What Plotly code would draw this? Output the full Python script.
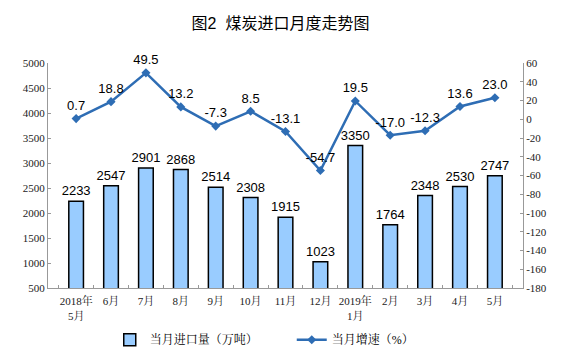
import plotly.graph_objects as go

categories = ["2018年<br>5月", "6月", "7月", "8月", "9月", "10月", "11月", "12月",
              "2019年<br>1月", "2月", "3月", "4月", "5月"]
imports = [2233, 2547, 2901, 2868, 2514, 2308, 1915, 1023, 3350, 1764, 2348, 2530, 2747]
growth = [0.7, 18.8, 49.5, 13.2, -7.3, 8.5, -13.1, -54.7, 19.5, -17.0, -12.3, 13.6, 23.0]
growth_text = [f"{v:.1f}" for v in growth]

left_ticks = [500, 1000, 1500, 2000, 2500, 3000, 3500, 4000, 4500, 5000]
right_ticks = list(range(-180, 61, 20))
right_labels = [str(v) for v in right_ticks]

serif = "Liberation Serif, Times New Roman, Noto Serif CJK SC, Noto Sans CJK SC, serif"
sans = "Liberation Sans, Arial, Noto Sans CJK SC, sans-serif"

fig = go.Figure()
fig.add_trace(go.Bar(
    x=categories, y=imports, name="当月进口量（万吨）",
    marker=dict(color="#99CCFF", line=dict(color="#000000", width=1.5)),
    text=[str(v) for v in imports], textposition="outside", constraintext="none",
    textfont=dict(family=sans, size=13, color="#000"),
    cliponaxis=False, width=0.42,
))
fig.add_trace(go.Scatter(
    x=categories, y=growth, name="当月增速（%）", yaxis="y2",
    mode="lines+markers+text",
    line=dict(color="#2E6DB4", width=2.5),
    marker=dict(symbol="diamond", size=7, color="#2E6DB4"),
    text=growth_text, textposition="top center",
    textfont=dict(family=sans, size=13, color="#000"),
    cliponaxis=False,
))

fig.update_layout(
    template="none",
    width=561, height=357,
    margin=dict(l=48, r=38, t=63, b=69, autoexpand=False),
    paper_bgcolor="white", plot_bgcolor="white",
    title=dict(text="图2  煤炭进口月度走势图", x=0.5, xanchor="center", y=0.935, yanchor="middle",
               font=dict(family=sans, size=16, color="#000")),
    showlegend=True,
    legend=dict(orientation="h", x=0.13, xanchor="left", y=-0.23, yanchor="middle",
                bgcolor="rgba(0,0,0,0)",
                font=dict(family=serif, size=12, color="#000"), entrywidth=137, itemwidth=30),
    xaxis=dict(showline=True, linecolor="#999", linewidth=1, tickangle=0, automargin=False,
               tickfont=dict(family=serif, size=11, color="#222"), ticklabelstandoff=3,
               ticks="inside", tickson="boundaries", ticklen=3, tickcolor="#999", showgrid=False),
    yaxis=dict(range=[500, 5000], tickvals=left_ticks, showline=True, linecolor="#999",
               automargin=False,
               ticks="inside", ticklen=3, tickcolor="#999", showgrid=False, zeroline=False,
               tickfont=dict(family=serif, size=11, color="#222")),
    yaxis2=dict(range=[-180, 60], tickvals=right_ticks, ticktext=right_labels,
                overlaying="y", side="right", automargin=False,
                showline=True, linecolor="#999", ticks="inside", ticklen=3, tickcolor="#999",
                showgrid=False, zeroline=False,
                tickfont=dict(family=serif, size=11, color="#222")),
    bargap=0.58,
)

fig.write_html("out.html", config={"displayModeBar": False},
               post_script="document.body.style.margin='0';document.body.style.overflow='hidden';")
